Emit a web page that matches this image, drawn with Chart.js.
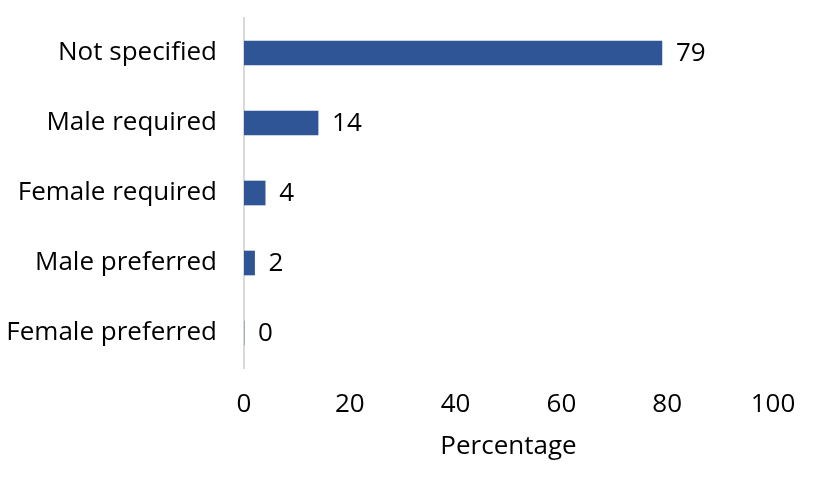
<!DOCTYPE html>
<html>
<head>
<meta charset="utf-8">
<script src="https://cdn.jsdelivr.net/npm/chart.js@4"></script>
<style>
  body { margin: 0; background: #fff; }
  #wrap { width: 813px; height: 484px; }
</style>
</head>
<body>
<div id="wrap"><canvas id="chart"></canvas></div>
<script>
const categories = ['Not specified', 'Male required', 'Female required', 'Male preferred', 'Female preferred'];
const percentages = [79, 14, 4, 2, 0];
const tickValues = [0, 20, 40, 60, 80, 100];

const FONT = '"Open Sans", sans-serif';
const SIZE = 26;

// writes the value just past the end of each bar
const valueLabels = {
  id: 'valueLabels',
  afterDatasetsDraw(chart) {
    const ctx = chart.ctx;
    ctx.save();
    ctx.font = SIZE + 'px ' + FONT;
    ctx.fillStyle = '#000';
    ctx.textAlign = 'left';
    ctx.textBaseline = 'middle';
    chart.getDatasetMeta(0).data.forEach((bar, i) => {
      ctx.fillText(percentages[i], bar.x + 14, bar.y + 1);
    });
    ctx.restore();
  }
};

new Chart(document.getElementById('chart'), {
  type: 'bar',
  data: {
    labels: categories,
    datasets: [{
      data: percentages,
      backgroundColor: '#2F5597',
      barThickness: 24
    }]
  },
  options: {
    indexAxis: 'y',
    responsive: true,
    maintainAspectRatio: false,
    animation: false,
    layout: { padding: { top: 18, right: 40, left: 0, bottom: 0 } },
    plugins: { legend: { display: false }, tooltip: { enabled: false } },
    scales: {
      x: {
        min: 0,
        max: 100,
        afterBuildTicks(scale) { scale.ticks = tickValues.map(v => ({ value: v })); },
        grid: { display: false, drawTicks: false },
        border: { display: false },
        ticks: { color: '#000', font: { family: FONT, size: SIZE }, padding: 21, maxRotation: 0 },
        title: { display: true, text: 'Percentage', color: '#000', font: { family: FONT, size: SIZE }, padding: { top: 0, bottom: 22 } },
        afterFit(scale) {
          scale.height = 116;
          scale.paddingLeft = 0;
          scale.paddingRight = 0;
        }
      },
      y: {
        grid: { display: false, drawTicks: false },
        border: { display: true, color: '#d9d9d9', width: 2 },
        ticks: { color: '#000', font: { family: FONT, size: SIZE }, padding: 27 },
        afterFit(scale) {
          scale.width = 244;
          scale.paddingTop = 0;
          scale.paddingBottom = 0;
        }
      }
    }
  },
  plugins: [valueLabels]
});
</script>
</body>
</html>
